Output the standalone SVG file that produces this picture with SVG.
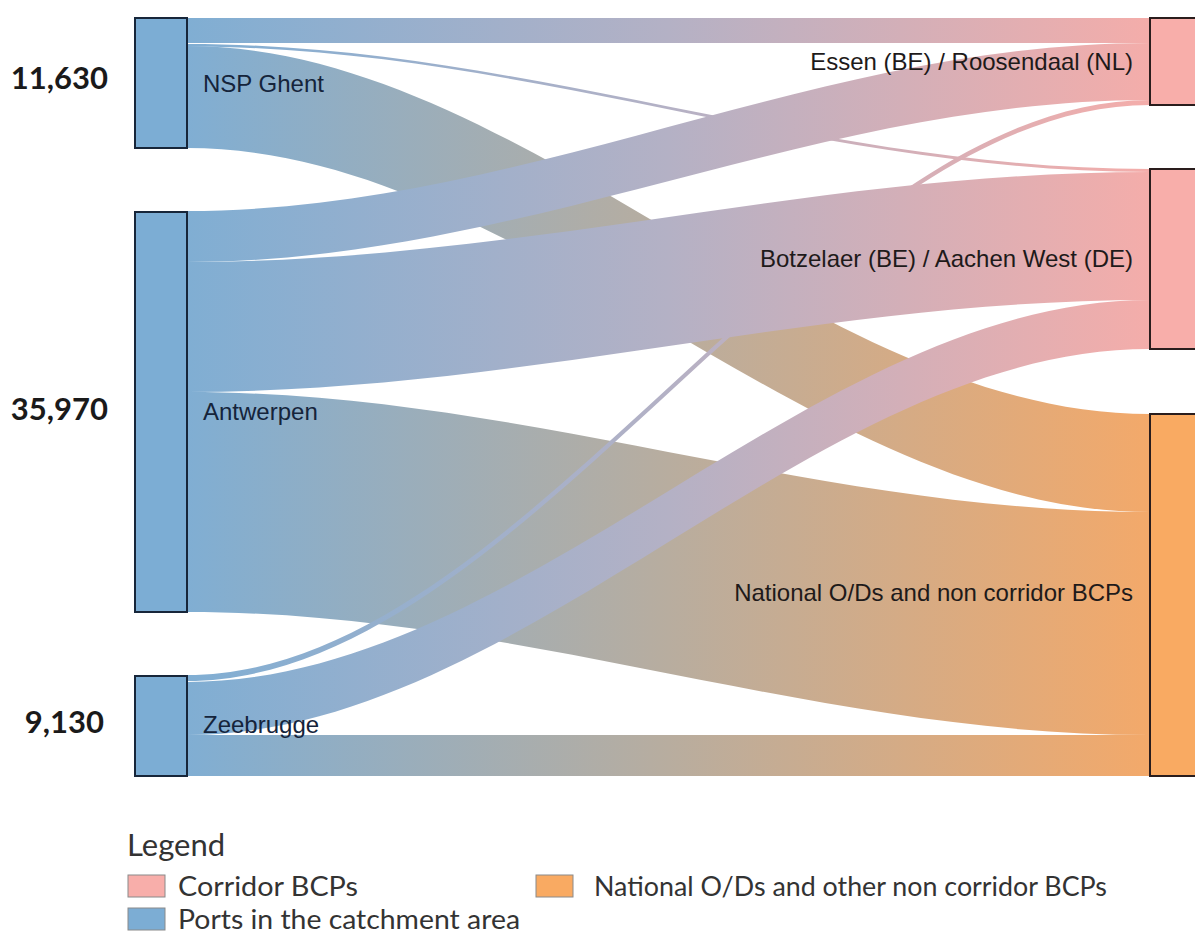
<svg xmlns="http://www.w3.org/2000/svg" width="1195" height="936" viewBox="0 0 1195 936">
  <style>
    .port { fill: #7cadd4; stroke: #17263a; stroke-width: 2; }
    .corr { fill: #f8aeaa; stroke: #2a1d1d; stroke-width: 2; }
    .natl { fill: #f9aa62; stroke: #2a1d1d; stroke-width: 2; }
    .lbl-l { font-family: "Liberation Sans", Arial, sans-serif; font-size: 24px; fill: #15243b; }
    .lbl-r { font-family: "Liberation Sans", Arial, sans-serif; font-size: 24px; fill: #1e1a1a; text-anchor: end; }
    .num { font-family: Lato, "Open Sans", sans-serif; font-weight: bold; font-size: 31px; fill: #1a1a1a; text-anchor: end; }
    .leg { font-family: Lato, "Open Sans", sans-serif; font-size: 26px; fill: #333; }
    .leg-title { font-family: Lato, "Open Sans", sans-serif; font-size: 31px; fill: #333; }
    .sw { stroke: #8a8a8a; stroke-width: 1; }
  </style>
  <defs>
    <linearGradient id="toCorr" gradientUnits="userSpaceOnUse" x1="187" y1="0" x2="1150" y2="0">
      <stop offset="0" stop-color="#80aed3"/>
      <stop offset="0.5" stop-color="#b4b1c5"/>
      <stop offset="1" stop-color="#f4adaa"/>
    </linearGradient>
    <linearGradient id="toNatl" gradientUnits="userSpaceOnUse" x1="187" y1="0" x2="1150" y2="0">
      <stop offset="0" stop-color="#80aed3"/>
      <stop offset="0.5" stop-color="#b8ad9f"/>
      <stop offset="1" stop-color="#f3a96a"/>
    </linearGradient>
  </defs>

  <!-- flows: national links underneath, corridor links on top -->
  <g id="links">
    <path id="ghent-national" fill="url(#toNatl)" d="M187,46 C524,46 813,414 1150,414 L1150,512 C813,512 524,148 187,148 Z"/>
    <path id="antwerpen-national" fill="url(#toNatl)" d="M187,392 C524,392 813,512 1150,512 L1150,735 C813,735 524,612 187,612 Z"/>
    <path id="zeebrugge-national" fill="url(#toNatl)" d="M187,735 L1150,735 L1150,776 L187,776 Z"/>
    <path id="ghent-essen" fill="url(#toCorr)" d="M187,18 L1150,18 L1150,43 L187,43 Z"/>
    <path id="ghent-botzelaer" fill="url(#toCorr)" d="M187,44 C524,44 813,169 1150,169 L1150,172 C813,172 524,46.5 187,46.5 Z"/>
    <path id="antwerpen-essen" fill="url(#toCorr)" d="M187,211 C524,211 813,43 1150,43 L1150,100 C813,100 524,262 187,262 Z"/>
    <path id="antwerpen-botzelaer" fill="url(#toCorr)" d="M187,262 C524,262 813,172 1150,172 L1150,300 C813,300 524,392 187,392 Z"/>
    <path id="zeebrugge-essen" fill="url(#toCorr)" d="M187,675 C524,675 813,100 1150,100 L1150,105 C813,105 524,681 187,681 Z"/>
    <path id="zeebrugge-botzelaer" fill="url(#toCorr)" d="M187,682 C524,682 813,300 1150,300 L1150,349 C813,349 524,735 187,735 Z"/>
  </g>

  <!-- ports -->
  <g id="node-ghent">
    <rect class="port" x="135" y="18" width="52" height="130"/>
    <text class="num" x="108" y="89">11,630</text>
    <text class="lbl-l" x="203" y="92">NSP Ghent</text>
  </g>
  <g id="node-antwerpen">
    <rect class="port" x="135" y="212" width="52" height="400"/>
    <text class="num" x="108" y="420">35,970</text>
    <text class="lbl-l" x="203" y="420">Antwerpen</text>
  </g>
  <g id="node-zeebrugge">
    <rect class="port" x="135" y="676" width="52" height="100"/>
    <text class="num" x="104" y="733">9,130</text>
    <text class="lbl-l" x="203" y="733">Zeebrugge</text>
  </g>

  <!-- border crossing points and national destinations -->
  <g id="node-essen">
    <rect class="corr" x="1150" y="18" width="60" height="87"/>
    <text class="lbl-r" x="1133" y="70">Essen (BE) / Roosendaal (NL)</text>
  </g>
  <g id="node-botzelaer">
    <rect class="corr" x="1150" y="169" width="60" height="180"/>
    <text class="lbl-r" x="1133" y="267">Botzelaer (BE) / Aachen West (DE)</text>
  </g>
  <g id="node-national">
    <rect class="natl" x="1150" y="414" width="60" height="362"/>
    <text class="lbl-r" x="1133" y="601">National O/Ds and non corridor BCPs</text>
  </g>

  <!-- legend -->
  <g id="legend">
    <text class="leg-title" x="127" y="856">Legend</text>
    <rect class="sw" x="128" y="875" width="37" height="22" fill="#f8aeaa"/>
    <text class="leg" x="178" y="896" textLength="180" lengthAdjust="spacingAndGlyphs">Corridor BCPs</text>
    <rect class="sw" x="536" y="875" width="37" height="22" fill="#f9aa62"/>
    <text class="leg" x="594" y="896" textLength="513" lengthAdjust="spacingAndGlyphs">National O/Ds and other non corridor BCPs</text>
    <rect class="sw" x="128" y="908" width="37" height="22" fill="#7cadd4"/>
    <text class="leg" x="178" y="929" textLength="342" lengthAdjust="spacingAndGlyphs">Ports in the catchment area</text>
  </g>
</svg>
